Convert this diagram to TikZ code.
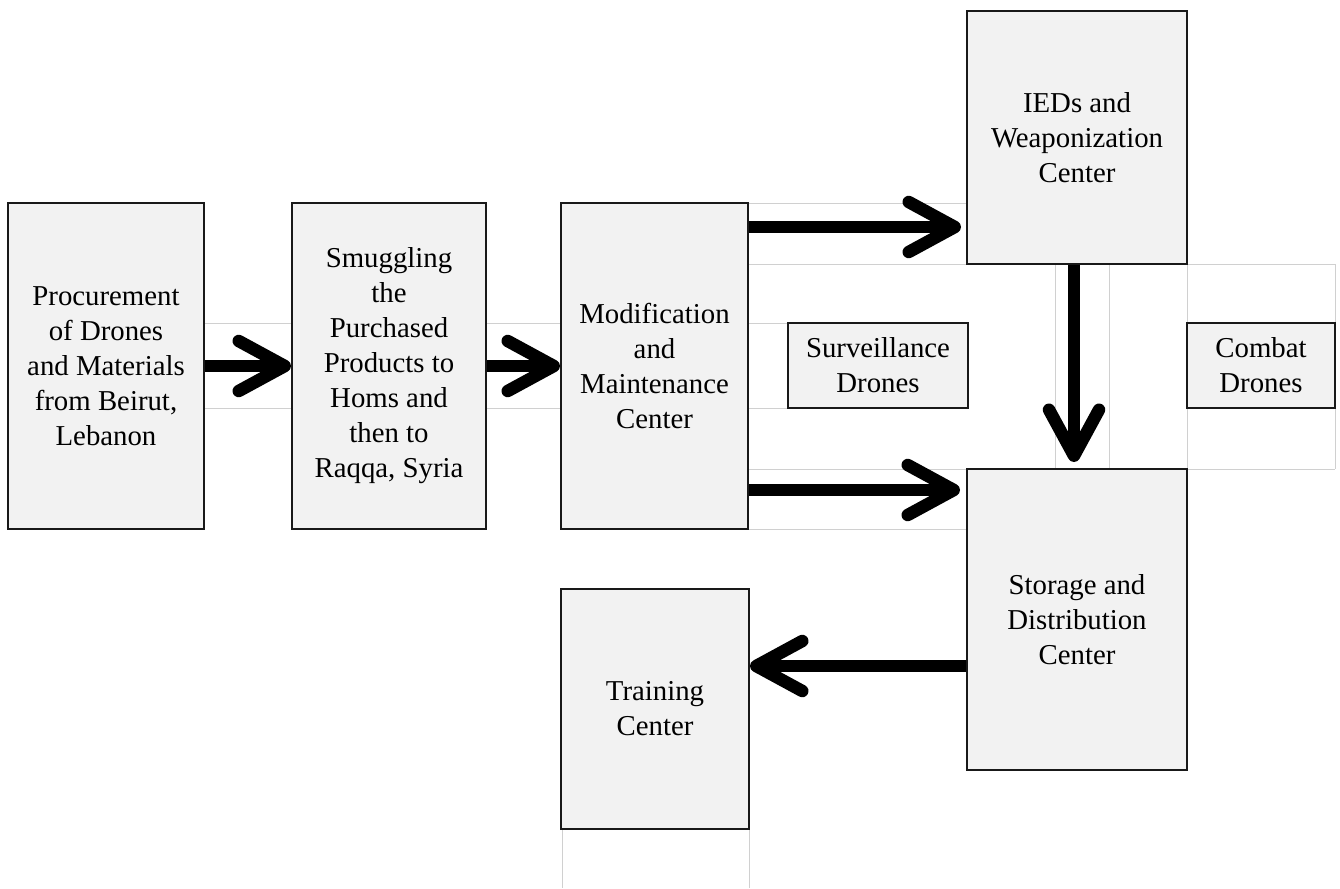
\documentclass[tikz,border=0pt]{standalone}
\usepackage{fontspec}
\setmainfont{Liberation Serif}
\usetikzlibrary{arrows.meta}
\definecolor{boxfill}{HTML}{F2F2F2}
\definecolor{gridgray}{HTML}{D0D0D0}
\tikzset{
  box/.style={draw=black!90, line width=2pt, fill=boxfill, inner sep=0pt, align=center,
              font=\fontsize{28.8}{35}\selectfont},
  flow/.style={line width=12.5pt, -{Straight Barb[length=46pt,width=50pt,line width=12.5pt,round]}},
  gridline/.style={draw=gridgray, line width=1pt}
}
\begin{document}
\begin{tikzpicture}[x=1pt,y=-1pt]
\useasboundingbox (0,0) rectangle (1340,888);
% faint table grid lines
\draw[gridline] (204,323) -- (292,323) (486,323) -- (561,323) (748,323) -- (788,323);
\draw[gridline] (204,408) -- (292,408) (486,408) -- (561,408) (748,408) -- (788,408);
\draw[gridline] (748,203) -- (967,203);
\draw[gridline] (748,264) -- (967,264) (1187,264) -- (1335,264);
\draw[gridline] (748,469) -- (967,469) (1187,469) -- (1335,469);
\draw[gridline] (748,529) -- (967,529);
\draw[gridline] (1055,264) -- (1055,469) (1109,264) -- (1109,469);
\draw[gridline] (1187,264) -- (1187,469) (1335,264) -- (1335,469);
\draw[gridline] (562,829) -- (562,888) (749,829) -- (749,888);
% boxes
\node[box, minimum width=196pt, minimum height=326pt] (proc) at (106,366)
  {Procurement\\of Drones\\and Materials\\from Beirut,\\Lebanon};
\node[box, minimum width=194pt, minimum height=326pt] (smug) at (389,366)
  {Smuggling\\the\\Purchased\\Products to\\Homs and\\then to\\Raqqa, Syria};
\node[box, minimum width=187pt, minimum height=326pt] (mod) at (654.5,366)
  {Modification\\and\\Maintenance\\Center};
\node[box, minimum width=220pt, minimum height=253pt] (ied) at (1077,137.5)
  {IEDs and\\Weaponization\\Center};
\node[box, minimum width=180pt, minimum height=85pt] (surv) at (878,365.5)
  {Surveillance\\Drones};
\node[box, minimum width=148pt, minimum height=85pt] (combat) at (1261,365.5)
  {Combat\\Drones};
\node[box, minimum width=220pt, minimum height=301pt] (stor) at (1077,619.5)
  {Storage and\\Distribution\\Center};
\node[box, minimum width=188pt, minimum height=240pt] (train) at (655,709)
  {Training\\Center};
% connector levels
\coordinate (yA) at (0,227);
\coordinate (yB) at (0,490);
\coordinate (xC) at (1074,0);
\coordinate (yD) at (0,666);
% connectors
\draw[flow] (proc) -- (smug);
\draw[flow] (smug) -- (mod);
\draw[flow, shorten >=5pt] (mod.east |- yA) -- (ied.west |- yA);
\draw[flow, shorten >=6pt] (mod.east |- yB) -- (stor.west |- yB);
\draw[flow, shorten >=6pt] (ied.south -| xC) -- (stor.north -| xC);
\draw[flow] (stor.west |- yD) -- (train.east |- yD);
\end{tikzpicture}
\end{document}
